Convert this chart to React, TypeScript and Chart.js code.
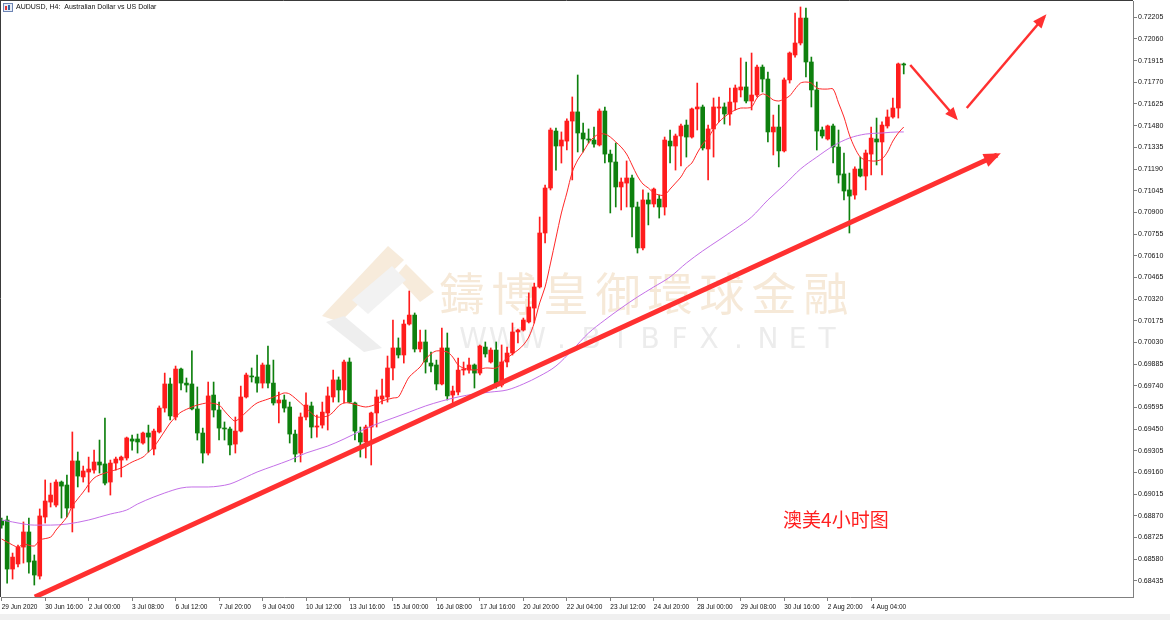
import React, { useEffect, useRef } from 'react';
import { Chart, registerables } from 'chart.js';

Chart.register(...registerables);

// ---------- DATA (AUDUSD H4) ----------
const openP = [
  0.68835, 0.68842, 0.68514, 0.68548, 0.68661, 0.68762, 0.68568, 0.68467, 0.68862, 0.68962,
  0.68942, 0.69096, 0.69076, 0.68922, 0.69237, 0.69130, 0.69163, 0.69176, 0.69230, 0.69217,
  0.69096, 0.69223, 0.69243, 0.69257, 0.69384, 0.69384, 0.69357, 0.69424, 0.69317, 0.69431,
  0.69591, 0.69752, 0.69531, 0.69852, 0.69758, 0.69752, 0.69585, 0.69424, 0.69290, 0.69678,
  0.69578, 0.69457, 0.69451, 0.69350, 0.69437, 0.69665, 0.69805, 0.69799, 0.69758, 0.69879,
  0.69758, 0.69625, 0.69645, 0.69598, 0.69417, 0.69290, 0.69531, 0.69605, 0.69464, 0.69477,
  0.69558, 0.69665, 0.69779, 0.69712, 0.69899, 0.69625, 0.69424, 0.69364, 0.69464, 0.69558,
  0.69651, 0.69665, 0.69859, 0.69993, 0.69946, 0.70153, 0.70213, 0.69986, 0.70033, 0.69892,
  0.69879, 0.69752, 0.69993, 0.69678, 0.69698, 0.69845, 0.69845, 0.69879, 0.69825, 0.69999,
  0.69899, 0.69979, 0.69745, 0.69899, 0.69959, 0.70100, 0.70113, 0.70167, 0.70260, 0.70401,
  0.70762, 0.71063, 0.71444, 0.71344, 0.71377, 0.71511, 0.71572, 0.71431, 0.71391, 0.71384,
  0.71351, 0.71578, 0.71290, 0.71237, 0.71070, 0.71096, 0.71130, 0.70936, 0.70662, 0.70983,
  0.70956, 0.70989, 0.70936, 0.71377, 0.71344, 0.71411, 0.71484, 0.71404, 0.71592, 0.71605,
  0.71324, 0.71458, 0.71598, 0.71605, 0.71558, 0.71638, 0.71719, 0.71739, 0.71645, 0.71685,
  0.71872, 0.71792, 0.71438, 0.71471, 0.71311, 0.71786, 0.71953, 0.72033, 0.72200, 0.71906,
  0.71719, 0.71451, 0.71391, 0.71478, 0.71337, 0.71157, 0.71050, 0.71016, 0.71190, 0.71143,
  0.71290, 0.71391, 0.71371, 0.71478, 0.71538, 0.71598, 0.71893,
];
const highP = [
  0.68855, 0.68869, 0.68621, 0.68675, 0.68829, 0.68855, 0.68608, 0.68916, 0.69110, 0.69089,
  0.69110, 0.69103, 0.69143, 0.69431, 0.69297, 0.69203, 0.69263, 0.69310, 0.69377, 0.69524,
  0.69243, 0.69263, 0.69270, 0.69397, 0.69411, 0.69417, 0.69431, 0.69477, 0.69451, 0.69605,
  0.69825, 0.69792, 0.69872, 0.69859, 0.69792, 0.69973, 0.69732, 0.69457, 0.69765, 0.69765,
  0.69631, 0.69498, 0.69464, 0.69531, 0.69738, 0.69825, 0.69859, 0.69946, 0.69892, 0.70006,
  0.69912, 0.69698, 0.69678, 0.69631, 0.69444, 0.69558, 0.69692, 0.69631, 0.69544, 0.69631,
  0.69732, 0.69845, 0.69799, 0.69912, 0.69926, 0.69631, 0.69464, 0.69477, 0.69564, 0.69712,
  0.69785, 0.69939, 0.70180, 0.70060, 0.70180, 0.70374, 0.70227, 0.70113, 0.70113, 0.69966,
  0.69912, 0.70126, 0.70093, 0.69738, 0.69926, 0.69899, 0.69926, 0.69886, 0.70013, 0.70033,
  0.69993, 0.70033, 0.70013, 0.69999, 0.70160, 0.70120, 0.70193, 0.70361, 0.70427, 0.70869,
  0.71083, 0.71464, 0.71464, 0.71438, 0.71525, 0.71672, 0.71819, 0.71498, 0.71458, 0.71471,
  0.71592, 0.71605, 0.71317, 0.71364, 0.71130, 0.71244, 0.71150, 0.70969, 0.71050, 0.71030,
  0.71063, 0.71016, 0.71404, 0.71451, 0.71424, 0.71491, 0.71518, 0.71598, 0.71765, 0.71618,
  0.71484, 0.71665, 0.71672, 0.71632, 0.71732, 0.71752, 0.71933, 0.71906, 0.71966, 0.71886,
  0.71886, 0.71839, 0.71551, 0.71618, 0.71799, 0.71973, 0.72234, 0.72274, 0.72267, 0.71939,
  0.71772, 0.71471, 0.71484, 0.71491, 0.71451, 0.71297, 0.71163, 0.71204, 0.71270, 0.71317,
  0.71471, 0.71531, 0.71505, 0.71585, 0.71665, 0.71899, 0.71899,
];
const lowP = [
  0.68788, 0.68420, 0.68447, 0.68528, 0.68554, 0.68487, 0.68407, 0.68447, 0.68822, 0.68929,
  0.68929, 0.68855, 0.68862, 0.68762, 0.69063, 0.69096, 0.69029, 0.69156, 0.69156, 0.69076,
  0.69009, 0.69176, 0.69130, 0.69243, 0.69310, 0.69290, 0.69350, 0.69297, 0.69277, 0.69424,
  0.69564, 0.69511, 0.69511, 0.69712, 0.69698, 0.69578, 0.69377, 0.69223, 0.69277, 0.69531,
  0.69377, 0.69377, 0.69277, 0.69290, 0.69431, 0.69658, 0.69765, 0.69698, 0.69725, 0.69725,
  0.69611, 0.69491, 0.69564, 0.69357, 0.69230, 0.69230, 0.69511, 0.69391, 0.69397, 0.69457,
  0.69444, 0.69631, 0.69631, 0.69625, 0.69625, 0.69377, 0.69263, 0.69257, 0.69210, 0.69464,
  0.69618, 0.69631, 0.69779, 0.69926, 0.69892, 0.70146, 0.69966, 0.69966, 0.69825, 0.69832,
  0.69712, 0.69745, 0.69645, 0.69625, 0.69678, 0.69812, 0.69825, 0.69725, 0.69812, 0.69932,
  0.69892, 0.69725, 0.69732, 0.69866, 0.69946, 0.70026, 0.70106, 0.70160, 0.70160, 0.70394,
  0.70695, 0.71050, 0.71183, 0.71230, 0.71317, 0.71117, 0.71304, 0.71304, 0.71364, 0.71337,
  0.71344, 0.71230, 0.70896, 0.70936, 0.70916, 0.70936, 0.70735, 0.70628, 0.70648, 0.70816,
  0.70936, 0.70862, 0.70882, 0.71230, 0.71183, 0.71210, 0.71270, 0.71397, 0.71451, 0.71317,
  0.71117, 0.71270, 0.71505, 0.71491, 0.71484, 0.71585, 0.71672, 0.71632, 0.71585, 0.71672,
  0.71705, 0.71371, 0.71284, 0.71204, 0.71304, 0.71765, 0.71939, 0.72020, 0.71806, 0.71605,
  0.71317, 0.71397, 0.71384, 0.71230, 0.71096, 0.70983, 0.70762, 0.70989, 0.71137, 0.71050,
  0.71150, 0.71217, 0.71150, 0.71464, 0.71531, 0.71531, 0.71826,
];
const closeP = [
  0.68808, 0.68514, 0.68594, 0.68661, 0.68762, 0.68561, 0.68474, 0.68869, 0.68969, 0.69009,
  0.69096, 0.69069, 0.68922, 0.69237, 0.69136, 0.69170, 0.69183, 0.69230, 0.69210, 0.69089,
  0.69223, 0.69250, 0.69263, 0.69391, 0.69370, 0.69364, 0.69424, 0.69397, 0.69437, 0.69591,
  0.69752, 0.69538, 0.69852, 0.69758, 0.69745, 0.69585, 0.69424, 0.69290, 0.69672, 0.69578,
  0.69457, 0.69451, 0.69344, 0.69437, 0.69665, 0.69812, 0.69799, 0.69758, 0.69879, 0.69758,
  0.69625, 0.69645, 0.69591, 0.69417, 0.69283, 0.69531, 0.69611, 0.69464, 0.69471, 0.69564,
  0.69672, 0.69779, 0.69712, 0.69899, 0.69631, 0.69437, 0.69364, 0.69464, 0.69558, 0.69665,
  0.69672, 0.69859, 0.69993, 0.69946, 0.70153, 0.70213, 0.69986, 0.70033, 0.69899, 0.69872,
  0.69752, 0.69993, 0.69672, 0.69705, 0.69845, 0.69852, 0.69879, 0.69825, 0.70006, 0.69953,
  0.69979, 0.69745, 0.69899, 0.69959, 0.70100, 0.70113, 0.70180, 0.70267, 0.70401, 0.70762,
  0.71063, 0.71451, 0.71344, 0.71384, 0.71511, 0.71572, 0.71431, 0.71391, 0.71384, 0.71357,
  0.71578, 0.71290, 0.71237, 0.71070, 0.71103, 0.71130, 0.70936, 0.70662, 0.70983, 0.70956,
  0.71056, 0.70936, 0.71384, 0.71344, 0.71411, 0.71478, 0.71404, 0.71592, 0.71605, 0.71331,
  0.71458, 0.71605, 0.71605, 0.71558, 0.71638, 0.71732, 0.71739, 0.71645, 0.71685, 0.71872,
  0.71792, 0.71438, 0.71471, 0.71311, 0.71786, 0.71966, 0.72033, 0.72200, 0.71906, 0.71719,
  0.71444, 0.71411, 0.71478, 0.71337, 0.71150, 0.71043, 0.71009, 0.71190, 0.71143, 0.71297,
  0.71397, 0.71371, 0.71484, 0.71538, 0.71598, 0.71893, 0.71886,
];

// fast (red) moving average at these bar indices
const fastMaIndex = [
  0, 2, 3, 4, 6, 7, 9, 10, 12, 13, 15, 17, 19, 22, 24, 26, 27, 28, 30, 31, 32, 33, 35, 36, 38,
  40, 41, 42, 43, 45, 46, 47, 49, 51, 52, 53, 55, 56, 57, 58, 60, 61, 62, 63, 64, 66, 67, 68, 69,
  70, 72, 73, 74, 75, 77, 78, 79, 80, 82, 83, 84, 85, 87, 89, 91, 92, 93, 95, 96, 97, 98, 99,
  100, 101, 102, 103, 104, 105, 106, 107, 108, 109, 110, 111, 112, 113, 114, 115, 116, 117, 118, 119,
  120, 121, 122, 123, 124, 125, 126, 127, 128, 129, 130, 131, 132, 133, 134, 135, 136, 137, 138, 139,
  140, 141, 142, 143, 144, 145, 146, 147, 148, 149, 150, 151, 152, 153, 154, 155, 156, 157, 158, 159,
  160, 161, 162, 163, 164, 165, 166,
];
const fastMaValue = [
  0.68715, 0.68675, 0.68661, 0.68681, 0.68668, 0.68708, 0.68728, 0.68775, 0.68862, 0.68935, 0.69029, 0.69123, 0.69156, 0.69190, 0.69230, 0.69263, 0.69297, 0.69330, 0.69437, 0.69491, 0.69531, 0.69564, 0.69598, 0.69611, 0.69625,
  0.69611, 0.69571, 0.69531, 0.69504, 0.69564, 0.69598, 0.69625, 0.69651, 0.69678, 0.69692, 0.69685, 0.69625, 0.69591, 0.69558, 0.69531, 0.69538, 0.69564, 0.69605, 0.69625, 0.69625, 0.69605, 0.69598, 0.69605, 0.69618,
  0.69638, 0.69658, 0.69665, 0.69732, 0.69799, 0.69866, 0.69919, 0.69953, 0.69973, 0.69966, 0.69932, 0.69879, 0.69859, 0.69845, 0.69859, 0.69859, 0.69892, 0.69926, 0.69979, 0.70013, 0.70066, 0.70160, 0.70294,
  0.70401, 0.70561, 0.70729, 0.70896, 0.71030, 0.71170, 0.71250, 0.71304, 0.71364, 0.71404, 0.71424, 0.71424, 0.71404, 0.71371, 0.71337, 0.71290, 0.71217, 0.71143, 0.71090, 0.71063,
  0.71030, 0.71016, 0.71016, 0.71056, 0.71096, 0.71137, 0.71197, 0.71230, 0.71297, 0.71357, 0.71397, 0.71458, 0.71505, 0.71538, 0.71565, 0.71585, 0.71598, 0.71598, 0.71605, 0.71665,
  0.71692, 0.71679, 0.71652, 0.71645, 0.71658, 0.71679, 0.71725, 0.71765, 0.71772, 0.71765, 0.71732, 0.71725, 0.71725, 0.71725, 0.71632, 0.71538, 0.71418, 0.71331, 0.71270, 0.71250,
  0.71244, 0.71244, 0.71257, 0.71304, 0.71377, 0.71431, 0.71471,
];

// slow (violet) moving average
const slowMaIndex = [
  0, 2, 3, 6, 9, 12, 16, 18, 20, 23, 25, 28, 30, 33, 35, 38, 40, 42, 45, 47,
  50, 53, 56, 60, 63, 66, 69, 72, 75, 78, 81, 84, 87, 90, 93, 96, 99, 102, 105, 108,
  111, 114, 117, 120, 123, 126, 129, 132, 135, 138, 141, 144, 147, 150, 153, 156, 159, 162, 165, 166,
];
const slowMaValue = [
  0.68842, 0.68829, 0.68822, 0.68808, 0.68808, 0.68815, 0.68842, 0.68862, 0.68882, 0.68909,
  0.68949, 0.68996, 0.69023, 0.69056, 0.69063, 0.69063, 0.69069, 0.69083, 0.69130, 0.69163,
  0.69203, 0.69243, 0.69290, 0.69337, 0.69384, 0.69437, 0.69484, 0.69524, 0.69564, 0.69605,
  0.69638, 0.69665, 0.69685, 0.69698, 0.69712, 0.69752, 0.69805, 0.69872, 0.69979, 0.70093,
  0.70180, 0.70260, 0.70334, 0.70401, 0.70468, 0.70561, 0.70642, 0.70715, 0.70789, 0.70869,
  0.70983, 0.71083, 0.71190, 0.71270, 0.71344, 0.71397, 0.71424, 0.71431, 0.71438, 0.71438,
];

// axis ticks
const xTickIndex = [0, 8, 16, 24, 32, 40, 48, 56, 64, 72, 80, 88, 96, 104, 112, 120, 128, 136, 144, 152, 160];
const xTickLabels = [
  '29 Jun 2020', '30 Jun 16:00', '2 Jul 00:00', '3 Jul 08:00', '6 Jul 12:00', '7 Jul 20:00',
  '9 Jul 04:00', '10 Jul 12:00', '13 Jul 16:00', '15 Jul 00:00', '16 Jul 08:00', '17 Jul 16:00',
  '20 Jul 20:00', '22 Jul 04:00', '23 Jul 12:00', '24 Jul 20:00', '28 Jul 00:00', '29 Jul 08:00',
  '30 Jul 16:00', '2 Aug 20:00', '4 Aug 04:00',
];
const yTickValues = [
  0.68435, 0.68580, 0.68725, 0.68870, 0.69015, 0.69160, 0.69305, 0.69450, 0.69595,
  0.69740, 0.69885, 0.70030, 0.70175, 0.70320, 0.70465, 0.70610, 0.70755, 0.70900,
  0.71045, 0.71190, 0.71335, 0.71480, 0.71625, 0.71770, 0.71915, 0.72060, 0.72205,
];

// drawn annotations, in (bar index, price)
const trendIndex = [6.1, 183.2];
const trendPrice = [0.68327, 0.71284];
const arrowDownIndex = [167.2, 175.6];
const arrowDownPrice = [0.71886, 0.71531];
const arrowUpIndex = [177.6, 191.9];
const arrowUpPrice = [0.71598, 0.72210];
const noteText = '澳美4小时图';
const noteIndex = 143.8;
const notePrice = 0.68842;

const titleText = 'AUDUSD, H4:  Australian Dollar vs US Dollar';
const watermarkCn = '鑄博皇御環球金融';
const watermarkEn = 'WWW.BIBFX.NET';

const UP = 'rgb(255,28,28)';
const DOWN = 'rgb(14,128,14)';
const ARROW = 'rgb(255,48,48)';

function arrowHead(ctx: CanvasRenderingContext2D, x1: number, y1: number, x2: number, y2: number, len: number, half: number, extra: number) {
  const a = Math.atan2(y2 - y1, x2 - x1);
  const cx = Math.cos(a), sx = Math.sin(a);
  const tx = x2 + cx * extra, ty = y2 + sx * extra;
  const bx = tx - cx * len, by = ty - sx * len;
  ctx.beginPath();
  ctx.moveTo(tx, ty);
  ctx.lineTo(bx - sx * half, by + cx * half);
  ctx.lineTo(bx + sx * half, by - cx * half);
  ctx.closePath();
  ctx.fill();
}

const decor = {
  id: 'decor',
  beforeDraw(chart: any) {
    const { ctx, width, height } = chart;
    ctx.save();
    ctx.fillStyle = '#ffffff';
    ctx.fillRect(0, 0, width, height);
    ctx.fillStyle = '#f0f0f0';
    ctx.fillRect(0, height - 6, width, 6);
    ctx.restore();
  },
  beforeDatasetsDraw(chart: any) {
    const { ctx, chartArea: a } = chart;
    ctx.save();
    ctx.beginPath();
    ctx.rect(a.left, a.top, a.right - a.left, a.bottom - a.top);
    ctx.clip();
    // faint logo
    const poly = (pts: number[][], color: string) => {
      ctx.fillStyle = color;
      ctx.beginPath();
      ctx.moveTo(pts[0][0], pts[0][1]);
      for (let i = 1; i < pts.length; i++) ctx.lineTo(pts[i][0], pts[i][1]);
      ctx.closePath();
      ctx.fill();
    };
    poly([[388, 246], [404, 260], [340, 322], [322, 316]], 'rgb(247,235,219)');
    poly([[406, 264], [434, 292], [420, 302], [396, 276]], 'rgb(247,235,219)');
    poly([[326, 322], [344, 316], [382, 348], [364, 352]], 'rgb(238,238,238)');
    poly([[352, 300], [392, 266], [406, 280], [368, 314]], 'rgb(242,242,242)');
    // watermark text
    ctx.textAlign = 'center';
    ctx.textBaseline = 'middle';
    ctx.fillStyle = 'rgb(246,233,216)';
    ctx.font = "45px 'Noto Sans CJK TC'";
    for (let k = 0; k < watermarkCn.length; k++) ctx.fillText(watermarkCn[k], 462 + 52 * k, 294);
    ctx.fillStyle = 'rgb(236,236,236)';
    ctx.font = "28px 'DejaVu Sans'";
    for (let k = 0; k < watermarkEn.length; k++) ctx.fillText(watermarkEn[k], 473 + 29.5 * k, 341);
    ctx.restore();
  },
  afterDatasetsDraw(chart: any) {
    const { ctx } = chart;
    const xs = chart.scales.x, ys = chart.scales.y;
    const px = (i: number) => xs.getPixelForValue(i);
    const py = (v: number) => ys.getPixelForValue(v);
    ctx.save();
    ctx.fillStyle = ARROW;
    arrowHead(ctx, px(trendIndex[0]), py(trendPrice[0]), px(trendIndex[1]), py(trendPrice[1]), 17, 7, 4);
    arrowHead(ctx, px(arrowDownIndex[0]), py(arrowDownPrice[0]), px(arrowDownIndex[1]), py(arrowDownPrice[1]), 13, 5.5, 3);
    arrowHead(ctx, px(arrowUpIndex[0]), py(arrowUpPrice[0]), px(arrowUpIndex[1]), py(arrowUpPrice[1]), 14, 5.5, 3);
    ctx.fillStyle = 'rgb(255,32,32)';
    ctx.font = "19px 'Noto Sans CJK SC'";
    ctx.textAlign = 'left';
    ctx.textBaseline = 'middle';
    ctx.fillText(noteText, px(noteIndex), py(notePrice));
    ctx.restore();
  },
  afterDraw(chart: any) {
    const { ctx, chartArea: a } = chart;
    ctx.save();
    ctx.strokeStyle = '#3a3a3a';
    ctx.lineWidth = 1;
    ctx.beginPath();
    ctx.moveTo(0.5, 0);
    ctx.lineTo(0.5, a.bottom);
    ctx.moveTo(0, 0.5);
    ctx.lineTo(a.right, 0.5);
    ctx.stroke();
    // small chart icon
    ctx.fillStyle = '#e8eef8';
    ctx.fillRect(3, 3, 10, 9);
    ctx.strokeStyle = '#6d84b4';
    ctx.strokeRect(3.5, 3.5, 9, 8);
    ctx.fillStyle = '#d33';
    ctx.fillRect(5, 6, 2, 4);
    ctx.fillStyle = '#36a';
    ctx.fillRect(8, 5, 2, 5);
    ctx.fillStyle = '#111';
    ctx.font = "7px 'Liberation Sans'";
    ctx.textAlign = 'left';
    ctx.textBaseline = 'middle';
    ctx.fillText(titleText, 16, 7.5);
    ctx.restore();
  },
};

export default function App() {
  const ref = useRef<HTMLCanvasElement>(null);
  useEffect(() => {
    const wicks = highP.map((h, i) => ({ x: i, y: [lowP[i], h] }));
    const bodies = openP.map((o, i) => ({ x: i, y: [o, closeP[i]] }));
    const colorOf = (c: any) => (closeP[c.dataIndex] >= openP[c.dataIndex] ? UP : DOWN);
    const chart = new Chart(ref.current as HTMLCanvasElement, {
      type: 'bar',
      data: {
        datasets: [
          {
            type: 'line',
            data: trendIndex.map((x, i) => ({ x, y: trendPrice[i] })),
            borderColor: ARROW,
            borderWidth: 5,
            pointRadius: 0,
            order: 0,
          },
          {
            type: 'line',
            data: arrowDownIndex.map((x, i) => ({ x, y: arrowDownPrice[i] })),
            borderColor: ARROW,
            borderWidth: 2.5,
            pointRadius: 0,
            order: 0,
          },
          {
            type: 'line',
            data: arrowUpIndex.map((x, i) => ({ x, y: arrowUpPrice[i] })),
            borderColor: ARROW,
            borderWidth: 2.5,
            pointRadius: 0,
            order: 0,
          },
          {
            type: 'line',
            data: fastMaIndex.map((x, i) => ({ x, y: fastMaValue[i] })),
            borderColor: 'rgb(255,40,40)',
            borderWidth: 1,
            pointRadius: 0,
            tension: 0.3,
            order: 1,
          },
          {
            type: 'line',
            data: slowMaIndex.map((x, i) => ({ x, y: slowMaValue[i] })),
            borderColor: 'rgb(196,112,232)',
            borderWidth: 1,
            pointRadius: 0,
            cubicInterpolationMode: 'monotone',
            order: 2,
          },
          {
            type: 'bar',
            data: bodies,
            backgroundColor: colorOf,
            barThickness: 4,
            minBarLength: 1,
            grouped: false,
            order: 3,
          },
          {
            type: 'bar',
            data: wicks,
            backgroundColor: colorOf,
            barThickness: 1,
            minBarLength: 1,
            grouped: false,
            order: 4,
          },
        ] as any,
      },
      options: {
        responsive: false,
        animation: false,
        devicePixelRatio: 1,
        layout: { padding: { top: 1, left: 1, right: 0, bottom: 0 } },
        plugins: { legend: { display: false }, tooltip: { enabled: false } },
        scales: {
          x: {
            type: 'linear',
            min: -0.129,
            max: 208.19,
            offset: false,
            afterBuildTicks: (s: any) => {
              s.ticks = xTickIndex.map((v) => ({ value: v }));
            },
            afterFit: (s: any) => {
              s.height = 23;
              s.paddingLeft = 0;
              s.paddingRight = 0;
              s.paddingTop = 0;
              s.paddingBottom = 0;
            },
            grid: { display: true, drawOnChartArea: false, drawTicks: true, tickLength: 4, color: '#808080', offset: false },
            border: { display: true, color: '#808080' },
            ticks: {
              autoSkip: false,
              maxRotation: 0,
              minRotation: 0,
              align: 'start',
              padding: 2,
              color: '#111',
              font: { family: "'Liberation Sans'", size: 6.5 },
              callback: (v: any) => {
                const k = xTickIndex.indexOf(Number(v));
                return k >= 0 ? xTickLabels[k] : '';
              },
            },
          },
          y: {
            type: 'linear',
            position: 'right',
            min: 0.68327,
            max: 0.72314,
            afterBuildTicks: (s: any) => {
              s.ticks = yTickValues.map((v) => ({ value: v }));
            },
            afterFit: (s: any) => {
              s.width = 37;
              s.paddingTop = 0;
              s.paddingBottom = 0;
              s.paddingLeft = 0;
              s.paddingRight = 0;
            },
            grid: { display: true, drawOnChartArea: false, drawTicks: true, tickLength: 4, color: '#808080' },
            border: { display: true, color: '#808080' },
            ticks: {
              autoSkip: false,
              padding: 1,
              color: '#111',
              font: { family: "'Liberation Sans'", size: 7 },
              callback: (v: any) => Number(v).toFixed(5),
            },
          },
        },
      } as any,
      plugins: [decor],
    });
    return () => chart.destroy();
  }, []);
  return (
    <div style={{ position: 'absolute', left: 0, top: 0, width: 1170, height: 620 }}>
      <canvas ref={ref} width={1170} height={620} style={{ display: 'block' }} />
    </div>
  );
}
